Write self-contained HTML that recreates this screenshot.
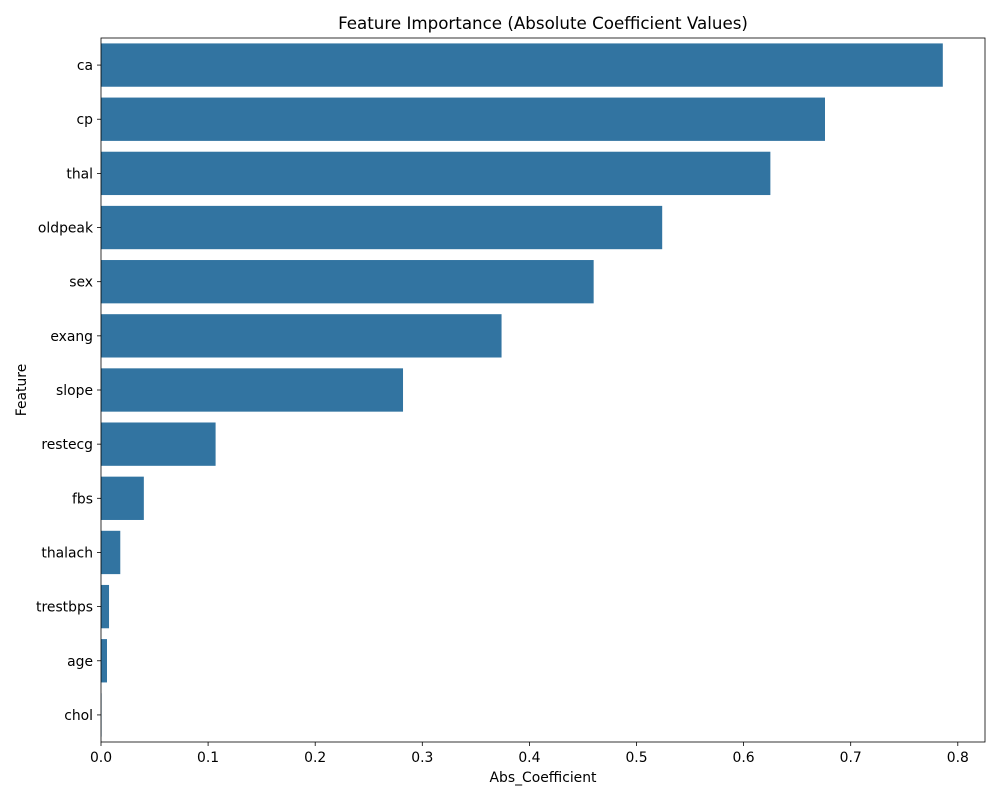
<!DOCTYPE html>
<html><head><meta charset="utf-8"><style>
body{margin:0;background:#fff;font-family:"DejaVu Sans","Liberation Sans",sans-serif;}
svg text{font-family:"DejaVu Sans","Liberation Sans",sans-serif;}
</style></head><body>
<svg id="chart" width="1000" height="800" xmlns="http://www.w3.org/2000/svg">
<text x="543" y="29" text-anchor="middle" font-size="16.7" fill="#000">Feature Importance (Absolute Coefficient Values)</text>
<g id="bars"></g>
<g id="yticks"></g>
<g id="xticks"></g>
<text x="543" y="782" text-anchor="middle" font-size="13.9">Abs_Coefficient</text>
<text transform="translate(26,390) rotate(-90)" text-anchor="middle" font-size="13.9">Feature</text>
</svg>
<script>
const categories=["ca","cp","thal","oldpeak","sex","exang","slope","restecg","fbs","thalach","trestbps","age","chol"];
const values=[0.786,0.676,0.625,0.524,0.460,0.374,0.282,0.107,0.040,0.018,0.0075,0.0056,0.0005];
const xTicks=[0,0.1,0.2,0.3,0.4,0.5,0.6,0.7,0.8];
const xTickLabels=["0.0","0.1","0.2","0.3","0.4","0.5","0.6","0.7","0.8"];
const NS="http://www.w3.org/2000/svg";
const L=101,R=985,T=38,B=742,xMax=0.8254;
const x=v=>L+v/xMax*(R-L);
const band=(B-T)/categories.length;
const y=i=>T+band*i;
function mk(tag,attrs,parent,text){const e=document.createElementNS(NS,tag);for(const k in attrs)e.setAttribute(k,attrs[k]);if(text!==undefined)e.textContent=text;parent.appendChild(e);return e;}
const bars=document.getElementById('bars'),yt=document.getElementById('yticks'),xt=document.getElementById('xticks');
categories.forEach((c,i)=>{
  const r=mk('rect',{x:L,y:y(i)+band*0.1,width:x(values[i])-L,height:band*0.8,fill:'#3274a1'},bars);
  
  
  const cy=y(i)+band/2;
  mk('line',{x1:L-4,x2:L,y1:cy,y2:cy,stroke:'#000','stroke-width':0.8},yt);
  const t=mk('text',{x:L-8,y:cy+5,'text-anchor':'end','font-size':13.9},yt,c);
  
  
});
xTicks.forEach((v,i)=>{
  const px=x(v);
  mk('line',{x1:px,x2:px,y1:B,y2:B+4,stroke:'#000','stroke-width':0.8},xt);
  const t=mk('text',{x:px,y:B+20,'text-anchor':'middle','font-size':13.9},xt,xTickLabels[i]);
  
  
});
const f=mk('rect',{x:L,y:T,width:R-L,height:B-T,fill:'none',stroke:'#000','stroke-width':0.8},document.getElementById('chart'));


</script>
</body></html>
